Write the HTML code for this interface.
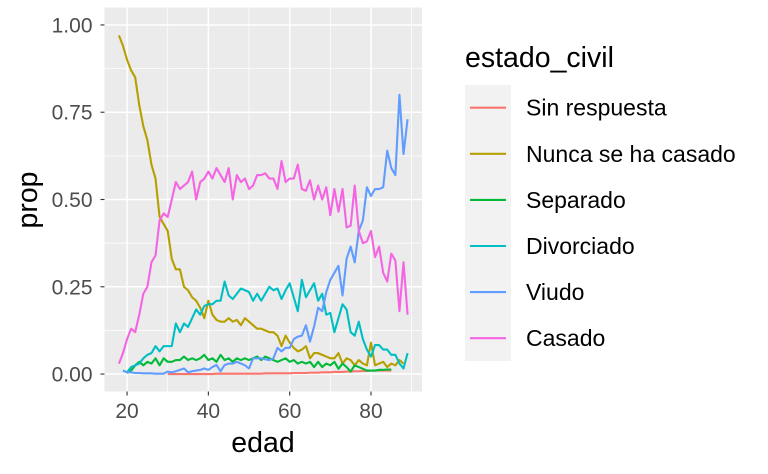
<!DOCTYPE html>
<html><head><meta charset="utf-8"><style>
body{margin:0;background:#fff;}
svg{display:block;font-family:"Liberation Sans",sans-serif;}
</style></head><body>
<svg id="chart" width="768" height="474">
<rect x="104.5" y="7.5" width="317.5" height="384" fill="#EBEBEB"/>
<g id="grid"></g>
<g id="series"></g>
<g id="axes"></g>
<text x="263" y="452" font-size="28.5" text-anchor="middle" fill="#000">edad</text>
<text transform="translate(37,200) rotate(-90)" font-size="28.5" text-anchor="middle" fill="#000">prop</text>
<g>
<text x="465" y="67" font-size="28.5" fill="#000">estado_civil</text>
<rect x="465" y="85" width="46" height="276" fill="#F2F2F2"/>
<g id="legend-items"></g>
</g>
</svg>
<script>
const ages = [18,19,20,21,22,23,24,25,26,27,28,29,30,31,32,33,34,35,36,37,38,39,40,41,42,43,44,45,46,47,48,49,50,51,52,53,54,55,56,57,58,59,60,61,62,63,64,65,66,67,68,69,70,71,72,73,74,75,76,77,78,79,80,81,82,83,84,85,86,87,88,89];
const seriesNames = ["Sin respuesta","Nunca se ha casado","Separado","Divorciado","Viudo","Casado"];
const sinRespuesta = [null,null,null,null,null,null,null,null,null,null,null,null,0,0,0,0,0,0,0,0,0,0,0,0,0.001,0.001,0.001,0.001,0.001,0.001,0.001,0.001,0.001,0.001,0.001,0.001,0.002,0.002,0.002,0.002,0.002,0.002,0.002,0.003,0.003,0.003,0.003,0.004,0.004,0.004,0.005,0.005,0.005,0.006,0.006,0.006,0.007,0.007,0.008,0.008,0.009,0.009,0.01,0.01,0.01,0.01,0.01,0.01,null,null,null,null];
const nunca = [0.97,0.94,0.90,0.87,0.85,0.77,0.71,0.67,0.60,0.56,0.45,0.43,0.41,0.33,0.30,0.30,0.25,0.24,0.22,0.21,0.19,0.16,0.21,0.17,0.155,0.15,0.15,0.16,0.15,0.155,0.14,0.16,0.15,0.14,0.13,0.13,0.125,0.12,0.12,0.11,0.08,0.11,0.09,0.075,0.065,0.07,0.08,0.045,0.06,0.06,0.055,0.05,0.045,0.045,0.06,0.03,0.045,0.04,0.025,0.04,0.03,0.025,0.09,0.025,0.03,0.035,0.02,0.03,0.025,0.04,0.03,null];
const separado = [null,null,0.003,0.01,0.025,0.035,0.025,0.035,0.03,0.045,0.025,0.045,0.035,0.035,0.04,0.04,0.05,0.04,0.045,0.04,0.045,0.055,0.04,0.045,0.035,0.055,0.04,0.045,0.035,0.045,0.04,0.045,0.04,0.045,0.05,0.04,0.05,0.045,0.04,0.035,0.04,0.045,0.035,0.04,0.03,0.035,0.03,0.035,0.02,0.035,0.02,0.03,0.025,0.035,0.015,0.03,0.02,0.007,0.025,0.02,0.015,0.01,0.01,0.01,0.012,0.012,0.013,0.013,null,null,null,null];
const divorciado = [null,0.01,0.005,0.02,0.025,0.03,0.045,0.055,0.06,0.08,0.065,0.08,0.08,0.08,0.145,0.12,0.145,0.135,0.16,0.185,0.17,0.195,0.20,0.20,0.21,0.21,0.265,0.225,0.215,0.23,0.245,0.24,0.235,0.21,0.23,0.21,0.23,0.25,0.24,0.245,0.215,0.24,0.26,0.22,0.18,0.27,0.22,0.24,0.26,0.21,0.23,0.17,0.175,0.12,0.16,0.20,0.185,0.12,0.11,0.15,0.10,0.07,0.05,0.083,0.083,0.07,0.07,0.055,0.055,0.03,0.016,0.06];
const viudo = [null,0.01,0.005,0.005,0.003,0.003,0.002,0.002,0.002,0.001,0.001,0.001,0.007,0.005,0.008,0.012,0.016,0.005,0.008,0.01,0.012,0.016,0.012,0.02,0.026,0.008,0.026,0.03,0.03,0.035,0.03,0.025,0.016,0.045,0.045,0.045,0.042,0.04,0.045,0.075,0.065,0.075,0.075,0.10,0.107,0.11,0.14,0.093,0.136,0.19,0.18,0.235,0.27,0.29,0.31,0.225,0.33,0.365,0.32,0.41,0.44,0.535,0.51,0.53,0.53,0.535,0.64,0.59,0.57,0.80,0.63,0.73];
const casado = [0.03,0.06,0.10,0.13,0.12,0.17,0.23,0.25,0.32,0.34,0.44,0.46,0.45,0.50,0.55,0.53,0.54,0.55,0.58,0.50,0.55,0.56,0.58,0.56,0.59,0.57,0.55,0.59,0.50,0.57,0.55,0.56,0.53,0.54,0.57,0.57,0.575,0.56,0.56,0.53,0.61,0.55,0.56,0.56,0.60,0.53,0.525,0.555,0.50,0.54,0.50,0.535,0.455,0.53,0.465,0.53,0.42,0.425,0.54,0.41,0.375,0.38,0.41,0.335,0.365,0.29,0.265,0.345,0.325,0.18,0.32,0.17];
const xTicks = [20,40,60,80];
const xMinor = [30,50,70,90];
const yTicks = [0,0.25,0.5,0.75,1.0];
const yTickLabels = ["0.00","0.25","0.50","0.75","1.00"];
const yMinor = [0.125,0.375,0.625,0.875];
const colors = ["#F8766D","#B79F00","#00BA38","#00BFC4","#619CFF","#F564E3"];

const NS="http://www.w3.org/2000/svg";
const xMin=14.45,xMax=92.55,yMin=-0.05,yMax=1.05;
const pL=104.5,pR=422,pT=7.5,pB=391.5;
function xs(v){return pL+(v-xMin)/(xMax-xMin)*(pR-pL);}
function ys(v){return pB-(v-yMin)/(yMax-yMin)*(pB-pT);}
function mk(tag,attrs,parent){const e=document.createElementNS(NS,tag);for(const k in attrs)e.setAttribute(k,attrs[k]);parent.appendChild(e);return e;}
const grid=document.getElementById('grid');
xMinor.forEach(v=>{if(xs(v)<pR){const l=mk('line',{x1:xs(v),x2:xs(v),y1:pT,y2:pB,stroke:'#fff','stroke-width':0.7},grid);

}});
yMinor.forEach(v=>{const l=mk('line',{x1:pL,x2:pR,y1:ys(v),y2:ys(v),stroke:'#fff','stroke-width':0.7},grid);

});
const axes=document.getElementById('axes');
xTicks.forEach(v=>{const l=mk('line',{x1:xs(v),x2:xs(v),y1:pT,y2:pB,stroke:'#fff','stroke-width':1.5},grid);


const t=mk('line',{x1:xs(v),x2:xs(v),y1:pB,y2:pB+4,stroke:'#333','stroke-width':1.1},axes);


const tx=mk('text',{x:xs(v),y:pB+26.5,'font-size':21,'text-anchor':'middle',fill:'#4D4D4D'},axes);
tx.textContent=v;

});
yTicks.forEach((v,i)=>{const l=mk('line',{x1:pL,x2:pR,y1:ys(v),y2:ys(v),stroke:'#fff','stroke-width':1.5},grid);


const t=mk('line',{x1:pL-4,x2:pL,y1:ys(v),y2:ys(v),stroke:'#333','stroke-width':1.1},axes);


const tx=mk('text',{x:pL-12,y:ys(v)+7.5,'font-size':21,'text-anchor':'end',fill:'#4D4D4D'},axes);
tx.textContent=yTickLabels[i];

});
const all=[sinRespuesta,nunca,separado,divorciado,viudo,casado];
const sg=document.getElementById('series');
all.forEach((vals,si)=>{let d='',pen=false;
vals.forEach((v,i)=>{if(v===null||v===undefined){pen=false;return;}d+=(pen?'L':'M')+xs(ages[i]).toFixed(2)+','+ys(v).toFixed(2);pen=true;});
const p=mk('path',{d:d,fill:'none',stroke:colors[si],'stroke-width':2.1,'stroke-linejoin':'round'},sg);

});
const lg=document.getElementById('legend-items');
seriesNames.forEach((n,i)=>{const cy=107.7+i*46.1;
const l=mk('line',{x1:470,x2:506,y1:cy,y2:cy,stroke:colors[i],'stroke-width':2.1},lg);


const t=mk('text',{x:526,y:cy+8,'font-size':23,fill:'#000'},lg);
t.textContent=n;

});
</script>
</body></html>
